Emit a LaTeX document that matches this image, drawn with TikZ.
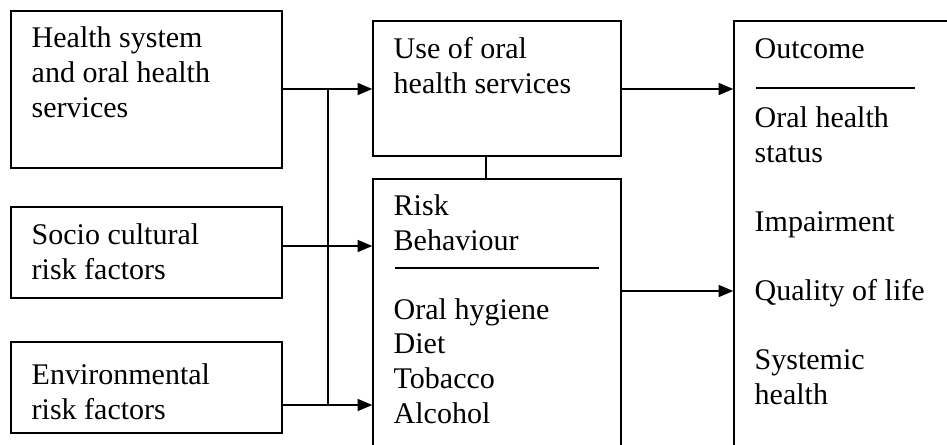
\documentclass[tikz,border=0pt]{standalone}
\usepackage{fontspec}
\setmainfont{Liberation Serif}
\usetikzlibrary{arrows.meta}
\begin{document}
\begin{tikzpicture}
  [x=0.75pt, y=-0.75pt, line width=1.1pt,
   box/.style={draw, inner sep=0pt},
   txt/.style={anchor=base west, inner sep=0pt, align=left,
     font=\fontsize{22.5pt}{25.9pt}\selectfont},
   arr/.style={-{Triangle[length=11pt, width=9pt]}}]
  \useasboundingbox (0,0) rectangle (947,444);
  % boxes
  \node[box, minimum width=203.25pt, minimum height=117.75pt] (health) at (146.5,89.5) {};
  \node[box, minimum width=203.25pt, minimum height=68.25pt] (socio) at (146.5,252.5) {};
  \node[box, minimum width=203.25pt, minimum height=68.25pt] (envir) at (146.5,387.5) {};
  \node[box, minimum width=186pt, minimum height=101.25pt] (use) at (497,88.5) {};
  \node[box, minimum width=186pt, minimum height=218.25pt] (risk) at (497,324.5) {};
  \node[box, minimum width=192pt, minimum height=336.75pt] (outcome) at (862,245.5) {};
  % texts (placed by the baseline of their last line)
  \node[txt] (thealth) at (31,117) {Health system\\and oral health\\services};
  \node[txt] (tsocio) at (31,279) {Socio cultural\\risk factors};
  \node[txt] (tenvir) at (31,419) {Environmental\\risk factors};
  \node[txt] (tuse) at (393,93) {Use of oral\\health services};
  \node[txt] (trisk) at (393,423) {Risk\\Behaviour\\[25.9pt]Oral hygiene\\Diet\\Tobacco\\Alcohol};
  \node[txt] (toutcome) at (754,404) {Outcome\\[25.9pt]Oral health\\status\\[25.9pt]Impairment\\[25.9pt]Quality of life\\[25.9pt]Systemic\\health};
  \draw (395,268) -- (599,268);
  \draw (756,88) -- (915,88);
  % connectors
  \coordinate (jtop) at (328,89);
  \coordinate (jmid) at (328,246);
  \coordinate (jbot) at (328,405);
  \coordinate (link) at (486,156);
  \coordinate (rout) at (621,291);
  \draw[arr] (health.east |- jtop) -- (jtop -| use.west);
  \draw[arr] (socio.east |- jmid) -- (jmid -| risk.west);
  \draw[arr] (envir.east |- jbot) -- (jbot -| risk.west);
  \draw (jtop) -- (jbot);
  \draw (link) -- (link |- risk.north);
  \draw[arr] (use.east |- jtop) -- (jtop -| outcome.west);
  \draw[arr] (rout) -- (rout -| outcome.west);
\end{tikzpicture}
\end{document}
